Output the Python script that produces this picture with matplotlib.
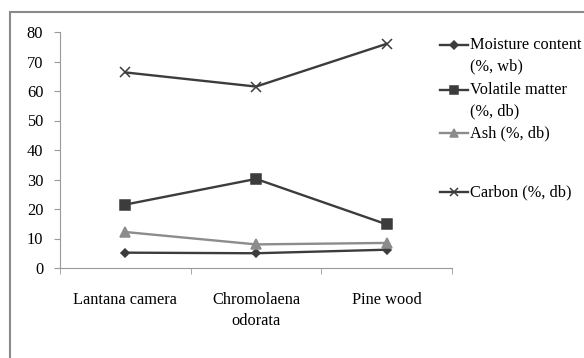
import matplotlib.pyplot as plt
from matplotlib.lines import Line2D
from matplotlib.patches import Rectangle

plt.rcParams['font.family'] = ['Liberation Serif', 'DejaVu Serif']
plt.rcParams['font.size'] = 11.8

# data
biomass = ['Lantana camera', 'Chromolaena\nodorata', 'Pine wood']
moisture = [5.2, 5.0, 6.2]
volatile = [21.5, 30.2, 14.8]
ash = [12.2, 8.0, 8.5]
carbon = [66.3, 61.5, 76.0]

series = [
    ('Moisture content\n(%, wb)', moisture, 'D', '#3c3c3c', 4.5),
    ('Volatile matter\n(%, db)', volatile, 's', '#3c3c3c', 7),
    ('Ash (%, db)', ash, '^', '#8c8c8c', 7),
    ('Carbon (%, db)', carbon, 'x', '#3c3c3c', 7),
]

W, H = 584, 358
fig = plt.figure(figsize=(W / 100, H / 100), dpi=100)
ax = fig.add_axes([60 / W, 1 - 268 / H, 392 / W, 236 / H])

x = range(len(biomass))
for label, vals, mk, col, ms in series:
    ax.plot(x, vals, color=col, lw=1.7, marker=mk, ms=ms, mew=1.1, label=label)

ax.set_xlim(-0.5, 2.5)
ax.set_ylim(0, 80)
ax.set_yticks(range(0, 81, 10))
ax.set_xticks(list(x))
ax.set_xticklabels(biomass, linespacing=1.45)
ax.set_xticks([-0.5, 0.5, 1.5, 2.5], minor=True)
ax.tick_params(axis='x', which='major', length=0, pad=17)
ax.tick_params(axis='x', which='minor', length=4, color='#999999')
ax.tick_params(axis='y', length=4, color='#999999', pad=8)
for s in ['top', 'right']:
    ax.spines[s].set_visible(False)
for s in ['left', 'bottom']:
    ax.spines[s].set_color('#999999')

# legend drawn by hand to mimic the spreadsheet layout
leg_y = [45, 90, 133, 192]
for (label, vals, mk, col, ms), ly in zip(series, leg_y):
    yf = 1 - ly / H
    fig.add_artist(Line2D([440 / W, 468 / W], [yf, yf], color=col, lw=1.7,
                          transform=fig.transFigure))
    fig.add_artist(Line2D([454 / W], [yf], color=col, marker=mk, ms=ms * 0.8,
                          mew=1.1, transform=fig.transFigure))
    fig.text(470 / W, yf + 8 / H, label, va='top', ha='left', linespacing=1.45,
             transform=fig.transFigure)

# outer chart border
fig.add_artist(Rectangle((10 / W, -0.1), 1.2, 1 - 12 / H + 0.1, fill=False,
                         ec='#8a8a8a', lw=1.5, transform=fig.transFigure))

fig.savefig('out.png', dpi=100)
